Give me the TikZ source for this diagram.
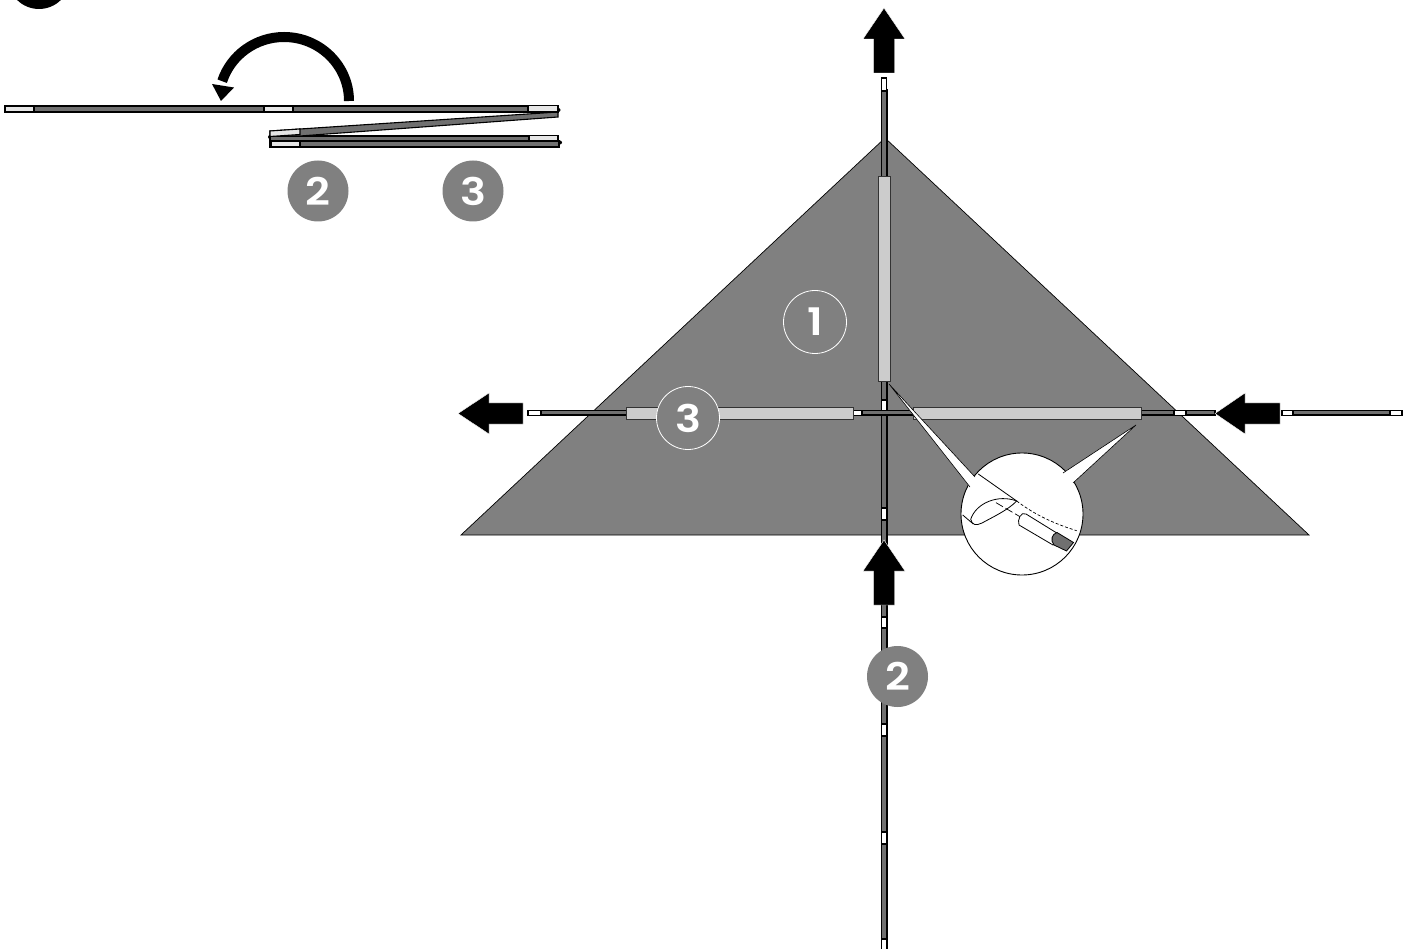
\documentclass[tikz,border=0pt]{standalone}
\usepackage{fontspec}
\newfontfamily\badgefont{Poppins}[BoldFont={Poppins SemiBold}]
\definecolor{sheet}{HTML}{808080}
\definecolor{rodgray}{HTML}{707070}
\definecolor{sleevegray}{HTML}{CCCCCC}
\definecolor{tipgray}{HTML}{E6E6E6}
\newcommand{\widedigit}[1]{\scalebox{1.14}[1]{#1}}
\tikzset{
  rod/.style={fill=rodgray,draw=black,line width=1.1pt},
  tipw/.style={fill=white,draw=black,line width=1.1pt},
  tipg/.style={fill=tipgray,draw=black,line width=1.1pt},
  sleeve/.style={fill=sleevegray,draw=black!80,line width=0.8pt},
  bigarrow/.style={fill=black,draw=white,line width=0.4pt},
  badgefull/.style={circle,fill=sheet,text=white,minimum size=61pt,inner sep=0pt,font=\badgefont\bfseries\fontsize{38}{38}\selectfont},
  badgering/.style={circle,fill=sheet,draw=white,line width=0.8pt,text=white,minimum size=63pt,inner sep=0pt,font=\badgefont\bfseries\fontsize{38}{38}\selectfont},
  thinln/.style={draw=black,line width=0.8pt},
}
\begin{document}
\begin{tikzpicture}[x=1pt,y=-1pt]
\useasboundingbox (0,0) rectangle (1411,949);
\clip (0,0) rectangle (1411,949);
% top-left cropped step mark
\fill[black] (39,-22) circle (31);
% folded poles
\fill[black] (558.5,110) circle (2);
\fill[black] (270,137) circle (2);
\fill[black] (560,142.5) circle (2);
\draw[rod] (270,136) rectangle (558,141);
\draw[tipg] (529,135.5) rectangle (558,141);
\draw[rod] (270,141) rectangle (559,147);
\draw[tipg] (271,141) rectangle (300,147);
\draw[rod] (558,112) -- (558,117) -- (300,136) -- (270,136) -- (270,131) -- (300,129) -- cycle;
\draw[tipg] (270,131) -- (300,129) -- (300,134.5) -- (270,136.5) -- cycle;
\draw[rod] (5,106) rectangle (558,112);
\draw[tipg] (5,106) rectangle (34,112);
\draw[tipg] (264,106) rectangle (293,112);
\draw[tipg] (528,105.5) rectangle (558,112);
% curved arrow
\draw[black,line width=10pt] (349,101) arc[start angle=0,end angle=-162,x radius=65,y radius=64];
\fill[black] (221,101) -- (212,84) -- (234,87.5) -- cycle;
% sheet
\fill[sheet,draw=black,line width=0.7pt] (885,138) -- (1309,535) -- (461,535) -- cycle;
% vertical pole
\draw[rod] (881.5,90) rectangle (887,949);
\foreach \a/\b in {78/91,400/411,508/520,617/628,724/736,832/844,939/951}
  \draw[tipw] (881.5,\a) rectangle (886.5,\b);
\draw[sleeve] (878,176) rectangle (890.5,381);
% horizontal pole
\draw[rod] (540,410.5) rectangle (1215,415);
\draw[tipw] (528,410.5) rectangle (541,415.5);
\draw[tipw] (853,410.5) rectangle (862,415.5);
\draw[tipw] (1174,410.5) rectangle (1186,415.5);
\draw[rod] (1293,410.5) rectangle (1390,415);
\draw[tipw] (1282,410.5) rectangle (1293,415.5);
\draw[tipw] (1390,410.5) rectangle (1402,415.5);
\draw[sleeve] (626,407) rectangle (853,419);
\draw[sleeve] (913,407) rectangle (1141,419);
% arrows
\draw[bigarrow] (884,8) -- (905,39) -- (894.5,39) -- (894.5,73) -- (873.5,73) -- (873.5,39) -- (863,39) -- cycle;
\draw[bigarrow] (884,540) -- (905,571) -- (894.5,571) -- (894.5,605) -- (873.5,605) -- (873.5,571) -- (863,571) -- cycle;
\draw[bigarrow] (458,413.5) -- (489,393) -- (489,403) -- (523,403) -- (523,424) -- (489,424) -- (489,434) -- cycle;
\draw[bigarrow] (1215,413.5) -- (1245,393) -- (1245,403) -- (1280,403) -- (1280,424) -- (1245,424) -- (1245,434) -- cycle;
% detail callout
\coordinate (ca) at (1022,514);
\fill[white,draw=black,line width=0.9pt] (ca) circle (61);
\coordinate (w1t) at (889,384);
\coordinate (w1a) at (975,477);
\coordinate (w1b) at (970,487);
\coordinate (w2t) at (1136,425);
\coordinate (w2a) at (1063,473);
\coordinate (w2b) at (1073,483);
\fill[white] (w1t) -- (w1a) -- (w1b) -- cycle;
\fill[white] (w2t) -- (w2a) -- (w2b) -- cycle;
\draw[thinln,line width=0.6pt] (w1a) -- (w1t) -- (w1b);
\draw[thinln,line width=0.6pt] (w2a) -- (w2t) -- (w2b);
% detail contents
\draw[thinln] (978.3,474) -- (1016.7,501);
\draw[black,line width=0.7pt,dash pattern=on 3pt off 2pt] (1016.7,501) .. controls (1035,515) and (1055,524) .. (1076.7,530.7);
\draw[thinln] (962.7,515) -- (973.3,524);
\draw[thinln,fill=white] (970.7,519.3) .. controls (976,503) and (998,494) .. (1016.7,501)
  .. controls (1008,510) and (993,517) .. (982,523) .. controls (976,526) and (972,525) .. (970.7,519.3) -- cycle;
\draw[black,line width=0.7pt,dash pattern=on 8pt off 3pt] (996,502.7) -- (1020,516.7);
\draw[thinln,fill=white] (1060,535) -- (1026,514) .. controls (1021,511) and (1017,520) .. (1019,525) -- (1053,545) -- cycle;
\draw[thinln,fill=rodgray] (1057,532.5) -- (1073.5,542.5) -- (1066.5,551) -- (1054,545) .. controls (1050,540) and (1052,534) .. (1057,532.5) -- cycle;
% badges
\node[badgefull] (b2) at (318,191) {\widedigit{2}};
\node[badgefull] (b3) at (473,191) {\widedigit{3}};
\node[badgefull] (b2m) at (897.5,676.5) {\widedigit{2}};
\node[badgering] (r1) at (815,322) {\widedigit{1}};
\node[badgering] (r3) at (688,418) {\widedigit{3}};
\end{tikzpicture}
\end{document}
